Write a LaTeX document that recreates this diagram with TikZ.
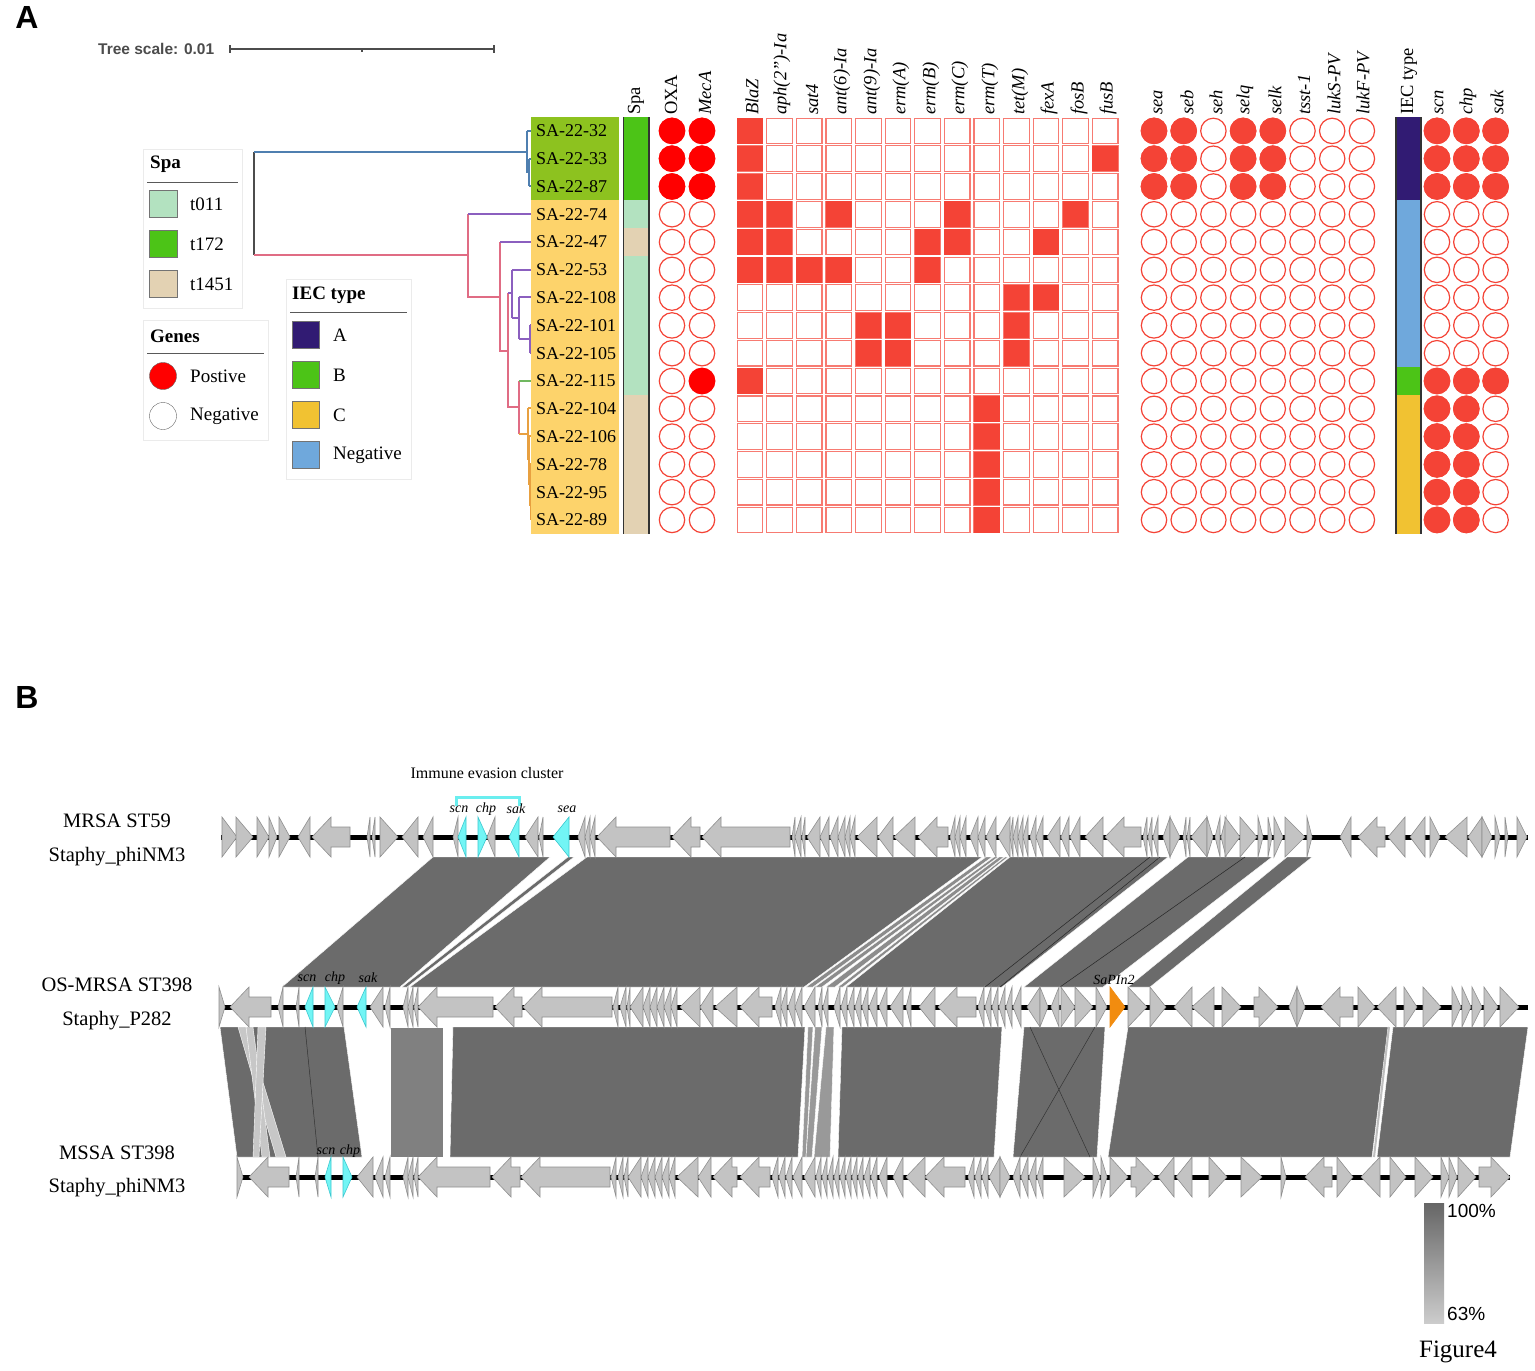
\documentclass[tikz,border=0pt]{standalone}
\usepackage{fontspec}
\setmainfont{Liberation Serif}
\setsansfont{Liberation Sans}
\usetikzlibrary{positioning}
\definecolor{lgreen}{HTML}{8DC21F}
\definecolor{lyellow}{HTML}{FDD36B}
\definecolor{spaA}{HTML}{B3E2C0}
\definecolor{spaB}{HTML}{4CC417}
\definecolor{spaC}{HTML}{E3D2B3}
\definecolor{iecA}{HTML}{311B73}
\definecolor{iecB}{HTML}{4CC417}
\definecolor{iecC}{HTML}{F1C232}
\definecolor{iecN}{HTML}{6FA8DC}
\definecolor{cred}{HTML}{F44336}
\definecolor{pred}{HTML}{FF0000}
\definecolor{tblue}{HTML}{4F7FB0}
\definecolor{tpink}{HTML}{E06C84}
\definecolor{tpurple}{HTML}{8B5FBF}
\definecolor{tgreen}{HTML}{70B860}
\definecolor{torange}{HTML}{E8A040}
\definecolor{genefill}{HTML}{C3C3C3}
\definecolor{genedraw}{HTML}{8F8F8F}
\definecolor{bandgray}{HTML}{6B6B6B}
\definecolor{cyanfill}{HTML}{72F5F5}
\definecolor{cyandraw}{HTML}{3CC8D0}
\definecolor{sapi}{HTML}{F28C0F}
\tikzset{
  lab/.style={anchor=west,inner sep=0pt,font=\fontsize{18}{18}\selectfont},
  hdr/.style={rotate=90,anchor=west,inner sep=0pt,font=\fontsize{18.5}{18.5}\selectfont\itshape},
  hdrup/.style={hdr,font=\fontsize{18.5}{18.5}\selectfont},
  sq/.style={draw=cred!70,line width=1.1pt,fill=white},
  gdot/.style={draw=cred,line width=1.2pt},
  gene/.style={fill=genefill,draw=genedraw,line width=0.6pt},
  cgene/.style={gene,fill=cyanfill,draw=cyandraw},
  band/.style={fill=bandgray,draw=white,line width=0.4pt},
  leg/.style={draw=black!8,line width=0.8pt},
  legtxt/.style={anchor=west,inner sep=0pt,font=\fontsize{19}{19}\selectfont},
  legttl/.style={legtxt,font=\fontsize{19}{19}\selectfont\bfseries},
  trk/.style={inner sep=0pt,font=\fontsize{20.5}{20.5}\selectfont},
  glab/.style={inner sep=0pt,font=\fontsize{14}{14}\selectfont\itshape},
  panel/.style={inner sep=0pt,font=\fontsize{32}{32}\selectfont\sffamily\bfseries},
}
% tail x, head x, track y
\NewDocumentCommand{\gene}{O{gene} m m m}{%
  \pgfmathsetmacro{\glen}{abs(#3-#2)}%
  \pgfmathsetmacro{\gneck}{#3-(#3-#2)/\glen*min(19,\glen)}%
  \ifdim\glen pt<24pt
    \filldraw[#1] (#2,#4-20) -- (#3,#4) -- (#2,#4+20) -- cycle;
  \else
    \filldraw[#1] (#2,#4-10) -- (\gneck,#4-10) -- (\gneck,#4-20) -- (#3,#4)
      -- (\gneck,#4+20) -- (\gneck,#4+10) -- (#2,#4+10) -- cycle;
  \fi}
% ytop, ybot, top left, top right, bottom left, bottom right
\NewDocumentCommand{\band}{O{band} m m m m m m}{%
  \filldraw[#1] (#4,#2) -- (#5,#2) -- (#7,#3) -- (#6,#3) -- cycle;}

\begin{document}
\begin{tikzpicture}[x=1pt,y=-1pt]
\useasboundingbox (0,0) rectangle (1535,1371);
\fill[white] (0,0) rectangle (1535,1371);
\node[panel] (pA) at (27,17) {A};
\node[panel] (pB) at (27,697) {B};
\node[anchor=west,inner sep=0pt,text=black!70,font=\fontsize{15.5}{15.5}\selectfont\sffamily\bfseries] (tscale) at (98,49) {Tree scale: 0.01};
\draw[black!70,line width=1.2pt] (230,49) -- (494,49) (230,45) -- (230,53) (494,45) -- (494,53) (362,49) -- (362,52);

% tree
\begin{scope}[line width=1.2pt]
\draw[black!70] (254,152) -- (254,255);
\draw[tblue] (254,152) -- (527,152) (527,131) -- (527,172.5) (527,131) -- (531,131) (527,172.5) -- (529,172.5)
  (529,159) -- (529,186) (529,159) -- (531,159) (529,186) -- (531,186);
\draw[tpink] (254,255) -- (468,255) (468,214) -- (468,297) -- (500,297) (500,242) -- (500,351) -- (508,351)
  (508,293) -- (508,407) -- (519,407) (519,381) -- (519,434);
\draw[tpurple] (468,214) -- (531,214) (500,242) -- (531,242) (508,293) -- (512,293) (512,270) -- (512,318)
  (512,270) -- (531,270) (512,318) -- (519,318) (519,297) -- (519,339) (519,297) -- (531,297)
  (519,339) -- (530,339) (530,325) -- (530,353) (530,325) -- (531,325) (530,353) -- (531,353);
\draw[tgreen] (519,381) -- (531,381);
\draw[torange] (519,434) -- (528,434) (528,408) -- (528,460) (528,408) -- (531,408) (528,460) -- (529,460)
  (529,436) -- (529,485) (529,436) -- (531,436) (529,485) -- (530,485) (530,464) -- (530,506)
  (530,464) -- (531,464) (530,506) -- (531,506) (531,492) -- (531,520);
\end{scope}

% legends
\draw[leg] (143,149) rectangle (242,308);
\node[legttl] (spattl) at (150,164) {Spa};
\draw[black!65] (147,182) -- (238,182);
\foreach \yy/\fc/\nm [count=\i] in {204/spaA/t011, 244/spaB/t172, 284/spaC/t1451}{
  \filldraw[fill=\fc,draw=black!55] (149,\yy-13.5) rectangle ++(28,27);
  \node[legtxt] (spa\i) at (190,\yy) {\nm};}
\draw[leg] (143,320) rectangle (268,440);
\node[legttl] (genttl) at (150,336) {Genes};
\draw[black!65] (147,353) -- (264,353);
\filldraw[fill=pred,draw=black!60] (163,376) circle (13.5);
\draw[black!60] (163,416) circle (13.5);
\node[legtxt] (gpos) at (190,376) {Postive};
\node[legtxt] (gneg) at (190,416) {Negative};
\draw[leg] (286,279) rectangle (411,479);
\node[legttl] (iecttl) at (292,295) {IEC type};
\draw[black!65] (290,312) -- (407,312);
\foreach \yy/\fc/\nm [count=\i] in {335/iecA/A, 375/iecB/B, 415/iecC/C, 455/iecN/Negative}{
  \filldraw[fill=\fc,draw=black!55] (292,\yy-13.5) rectangle ++(27,27);
  \node[legtxt] (iec\i) at (333,\yy) {\nm};}

% strains and strips
\fill[lgreen] (531,117) rectangle (619,200);
\fill[lyellow] (531,200) rectangle (619,534);
\foreach \nm [count=\r, evaluate=\r as \ry using 103.1+\r*27.79] in {SA-22-32,SA-22-33,SA-22-87,SA-22-74,SA-22-47,
  SA-22-53,SA-22-108,SA-22-101,SA-22-105,SA-22-115,SA-22-104,SA-22-106,SA-22-78,SA-22-95,SA-22-89}
  \node[lab] (s\r) at (536,\ry) {\nm};
\foreach \a/\b/\fc in {1/3/spaB, 4/4/spaA, 5/5/spaC, 6/10/spaA, 11/15/spaC}
  \fill[\fc] (624,{117+(\a-1)*27.79}) rectangle (649,{117+\b*27.79});
\foreach \a/\b/\fc in {1/3/iecA, 4/9/iecN, 10/10/iecB, 11/15/iecC}
  \fill[\fc] (1396,{117+(\a-1)*27.79}) rectangle (1421,{117+\b*27.79});
\draw[black!80,line width=1.2pt] (623.5,117) -- (623.5,534) (649,117) -- (649,534)
  (1396,117) -- (1396,534) (1421,117) -- (1421,534);

% headers
\node[hdrup] (hspa) at (636,115) {Spa};
\node[hdrup] (hoxa) at (671,115) {OXA};
\node[hdrup] (hiec) at (1409,115) {IEC type};
\foreach \hx/\nm [count=\i] in {705/MecA, 752/BlaZ, 782/{aph(2")-Ia}, 812/sat4, 842/{ant(6)-Ia}, 872/{ant(9)-Ia},
  901/{erm(A)}, 931/{erm(B)}, 960/{erm(C)}, 990/{erm(T)}, 1020/{tet(M)}, 1049/fexA, 1079/fosB, 1108/fusB,
  1158/sea, 1187/seb, 1216/seh, 1245/selq, 1275/selk, 1304/tsst-1, 1334/lukS-PV, 1363/lukF-PV,
  1439/scn, 1468/chp, 1497/sak}
  \node[hdr] (h\i) at (\hx,115) {\nm};

% gene table
\foreach \c in {1,...,13}{\foreach \r in {1,...,15}{
  \draw[sq] ({737.2+(\c-1)*29.6},{118.1+(\r-1)*27.79}) rectangle ++(25.6,25.6);}}
\foreach \c/\r in {1/1,1/2,13/2,1/3,1/4,2/4,4/4,8/4,12/4,1/5,2/5,7/5,8/5,11/5,1/6,2/6,3/6,4/6,7/6,
  10/7,11/7,5/8,6/8,10/8,5/9,6/9,10/9,1/10,9/11,9/12,9/13,9/14,9/15}
  \fill[cred] ({737.2+(\c-1)*29.6},{118.1+(\r-1)*27.79}) rectangle ++(25.6,25.6);
\foreach \r in {1,...,15}{
  \foreach \cx in {672,702}{\draw[gdot] (\cx,{103.1+\r*27.79}) circle (12.7);}
  \foreach \c in {1,...,8}{\draw[gdot] ({1154+(\c-1)*29.7},{103.1+\r*27.79}) circle (12.7);}
  \foreach \c in {1,...,3}{\draw[gdot] ({1437+(\c-1)*29.3},{103.1+\r*27.79}) circle (12.7);}}
\foreach \cx/\r in {672/1,672/2,672/3,702/1,702/2,702/3,702/10}
  \filldraw[pred,draw=pred,line width=1.2pt] (\cx,{103.1+\r*27.79}) circle (12.7);
\foreach \c/\r in {1/1,2/1,4/1,5/1,1/2,2/2,4/2,5/2,1/3,2/3,4/3,5/3}
  \filldraw[cred,line width=1.2pt] ({1154+(\c-1)*29.7},{103.1+\r*27.79}) circle (12.7);
\foreach \c/\r in {1/1,2/1,3/1,1/2,2/2,3/2,1/3,2/3,3/3,1/10,2/10,3/10,1/11,2/11,1/12,2/12,1/13,2/13,1/14,2/14,1/15,2/15}
  \filldraw[cred,line width=1.2pt] ({1437+(\c-1)*29.3},{103.1+\r*27.79}) circle (12.7);

% panel B: track names
\node[trk] (n1a) at (117,821) {MRSA ST59};
\node[trk] (n1b) at (117,857) {Staphy\_phiNM3};
\node[trk] (n2a) at (117,985) {OS-MRSA ST398};
\node[trk] (n2b) at (117,1021) {Staphy\_P282};
\node[trk] (n3a) at (117,1153) {MSSA ST398};
\node[trk] (n3b) at (117,1188) {Staphy\_phiNM3};

% comparison bands
\foreach \a/\b/\c/\d in {433/550/282/400, 568/574/402/407, 587/982/410/804, 1010/1168/846/1002,
  1188/1272/1024/1103, 1287/1312/1128/1150}
  \band{857}{987}{\a}{\b}{\c}{\d};
\foreach \a/\b/\c/\d in {986/992/806/813, 994/998/815/822, 999/1004/826/835, 1005/1008/838/843}
  \band[band,fill=black!45]{857}{987}{\a}{\b}{\c}{\d};
\draw[black!85,line width=0.5pt] (1150,857) -- (985,987) (1160,857) -- (1000,987) (1245,857) -- (1060,987);
\foreach \a/\b/\c/\d in {220/344/237/362, 453/805/450/798, 842/1002/838/994, 1024/1105/1013/1097,
  1128/1388/1108/1372, 1393/1528/1377/1510}
  \band{1027}{1157}{\a}{\b}{\c}{\d};
\band[band,fill=black!50]{1027}{1157}{390}{443}{390}{443};
\foreach \a/\b/\c/\d in {238/246/276/286, 246/253/262/270, 258/266/253/259}
  \band[band,fill=black!22]{1027}{1157}{\a}{\b}{\c}{\d};
\foreach \a/\b/\c/\d in {808/813/802/806, 815/822/806/812, 826/834/814/830}
  \band[band,fill=black!40]{1027}{1157}{\a}{\b}{\c}{\d};
\draw[black!80,line width=0.5pt] (305,1027) -- (318,1157) (1030,1027) -- (1090,1157) (1095,1027) -- (1020,1157);
\draw[black!25,line width=2pt] (1389,1027) -- (1374,1157);

% backbones
\draw[line width=5pt] (221,837) -- (1528,837) (219,1007) -- (1528,1007) (237,1177) -- (1510,1177);

% track 1
\foreach \a/\b in {222/237,236/253,257/269,269/277,279/290,310/298,350/312,370/367,375/372,380/398,418/402,
  433/423,458/453,495/487,538/525,543/539,585/578,590/585,595/590,670/597,700/672,790/702,795/792,801/795,
  805/802,820/807,829/820,838/830,845/838,850/845,855/850,877/857,893/878,915/894,948/918,955/950,960/955,
  966/960,978/970,985/978,996/986,1010/998,1013/1010,1018/1013,1023/1018,1028/1023,1036/1030,1043/1036,
  1060/1047,1069/1061,1080/1070,1103/1085,1141/1105,1147/1143,1152/1148,1158/1153,1170/1163,1170/1180,
  1186/1183,1190/1187,1207/1191,1207/1213,1220/1215,1226/1221,1225/1240,1240/1257,1258/1263,1268/1272,
  1274/1283,1285/1305,1307/1312,1351/1340,1385/1358,1405/1388,1425/1410,1430/1440,1467/1445,1482/1468,
  1482/1492,1495/1500,1505/1508,1517/1527}
  \gene{\a}{\b}{837};
\gene[cgene]{466}{458}{837}
\gene[cgene]{478}{487}{837}
\gene[cgene]{519}{509}{837}
\gene[cgene]{569}{553}{837}

% track 2
\foreach \a/\b in {219/225,271/230,283/278,299/296,343/337,383/370,390/385,408/403,413/408,418/414,493/418,
  522/495,612/523,618/613,626/620,630/627,643/630,650/643,657/650,664/657,671/664,677/671,700/680,713/700,
  737/715,772/740,781/775,787/781,795/788,802/795,815/804,822/818,828/823,840/834,847/841,854/848,861/855,
  868/862,877/869,887/879,903/890,911/906,935/919,976/938,984/978,991/985,998/992,1005/999,1012/1006,
  1021/1013,1040/1027,1040/1048,1059/1051,1061/1075,1075/1093,1096/1107,1128/1147,1150/1166,1192/1174,
  1214/1192,1222/1241,1254/1278,1297/1289,1297/1305,1353/1321,1358/1375,1396/1377,1404/1417,1423/1441,
  1452/1461,1462/1471,1472/1482,1484/1498,1500/1519}
  \gene{\a}{\b}{1007};
\gene[cgene]{313}{305}{1007}
\gene[cgene]{325}{335}{1007}
\gene[cgene]{366}{357}{1007}
\gene[gene,fill=sapi,draw=sapi]{1110}{1125}{1007}

% track 3
\foreach \a/\b in {237/243,289/249,299/296,318/315,373/357,383/375,390/385,408/403,413/408,418/414,490/418,
  520/492,610/521,616/611,623/618,628/624,641/628,648/641,655/648,662/655,669/662,675/669,698/677,711/698,
  737/713,770/740,778/772,785/779,792/786,802/793,815/804,821/816,827/822,833/828,839/834,845/840,851/846,
  857/852,863/858,870/864,877/871,887/879,903/893,925/906,965/925,974/968,981/975,988/982,1000/989,
  1000/1010,1020/1013,1028/1021,1036/1029,1043/1037,1064/1085,1093/1100,1101/1107,1110/1128,1131/1155,
  1174/1158,1192/1176,1209/1227,1241/1262,1281/1286,1332/1305,1337/1353,1380/1361,1390/1406,1415/1433,
  1441/1449,1449/1457,1458/1476,1479/1510}
  \gene{\a}{\b}{1177};
\gene[cgene]{331}{325}{1177}
\gene[cgene]{343}{352}{1177}

% gene labels
\node[inner sep=0pt,font=\fontsize{16}{16}\selectfont] (iecl) at (487,773) {Immune evasion cluster};
\draw[cyanfill!85!cyandraw,line width=3pt] (456,806) |- (519,797) -- (519,806);
\foreach \gx/\gy/\nm [count=\i] in {459/809/scn, 486/809/chp, 516/809/sak, 567/809/sea,
  307/978/scn, 335/978/chp, 368/978/sak, 1114/980/SaPIn2, 326/1151/scn, 350/1151/chp}
  \node[glab] (gl\i) at (\gx,\gy) {\nm};

% identity bar
\shade[top color=black!60,bottom color=black!20] (1424,1203) rectangle (1444,1323);
\node[anchor=west,inner sep=0pt,font=\fontsize{19}{19}\selectfont\sffamily] (c100) at (1447,1211) {100\%};
\node[anchor=west,inner sep=0pt,font=\fontsize{19}{19}\selectfont\sffamily] (c63) at (1447,1314) {63\%};
\node[inner sep=0pt,font=\fontsize{25}{25}\selectfont] (fig) at (1458,1352) {Figure4};
\end{tikzpicture}
\end{document}
